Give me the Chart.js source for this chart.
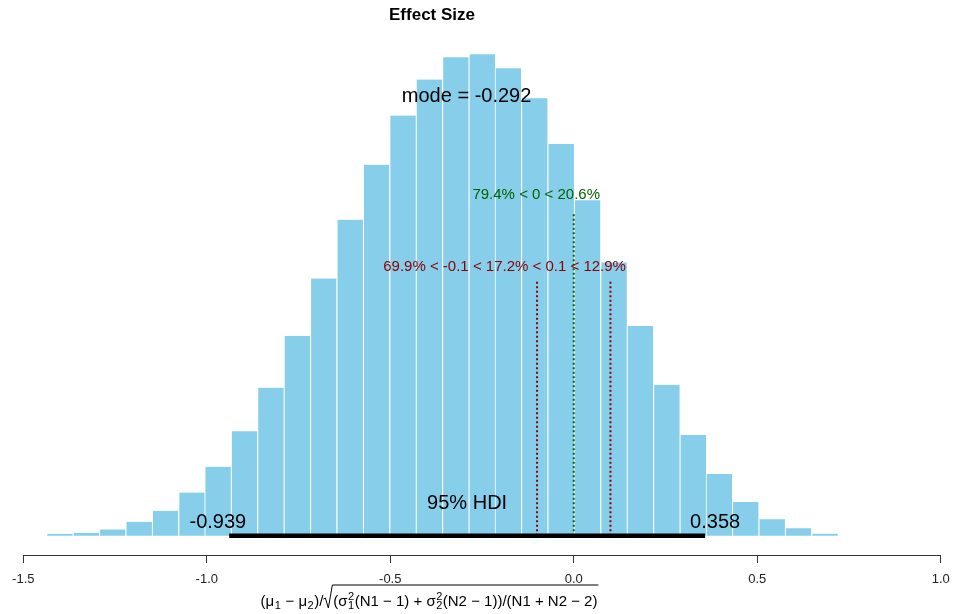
<!DOCTYPE html>
<html>
<head>
<meta charset="utf-8">
<script src="https://cdn.jsdelivr.net/npm/chart.js@4/dist/chart.umd.min.js"></script>
<style>
  html, body { margin: 0; padding: 0; background: #fff; }
  #wrap { width: 955px; height: 614px; }
</style>
</head>
<body>
<div id="wrap"><canvas id="effectChart" width="955" height="614"></canvas></div>
<script>
// Datos del histograma (densidad posterior del tamaño de efecto)
const binMids = [-1.401, -1.329, -1.257, -1.185, -1.113, -1.041, -0.970, -0.898, -0.826, -0.754,
                 -0.682, -0.610, -0.538, -0.466, -0.394, -0.322, -0.250, -0.179, -0.107, -0.035,
                  0.037,  0.109,  0.181,  0.253,  0.325,  0.396,  0.468,  0.540,  0.612,  0.684];
const density = [0.004, 0.007, 0.015, 0.033, 0.059, 0.102, 0.163, 0.247, 0.350, 0.472,
                 0.608, 0.747, 0.877, 0.993, 1.078, 1.131, 1.138, 1.105, 1.034, 0.926,
                 0.793, 0.646, 0.496, 0.357, 0.238, 0.146, 0.080, 0.039, 0.018, 0.005];
const xTicks = [-1.5, -1.0, -0.5, 0.0, 0.5, 1.0];

// Resumen posterior
const modeVal = -0.292;
const hdi = [-0.939, 0.358];
const compVal = 0;
const compPct = [79.4, 20.6];
const rope = [-0.1, 0.1];
const ropePct = [69.9, 17.2, 12.9];

const maxDens = Math.max(...density);
const cvHt = 0.7 * maxDens;    // altura del texto del valor de comparación
const ropeHt = 0.55 * maxDens; // altura del texto del ROPE

const annotations = {
    id: 'annotations',
    afterDatasetsDraw(chart) {
        const { ctx, scales: { x, y } } = chart;
        const y0 = y.getPixelForValue(0);
        ctx.save();

        function anchored(text, xv, yPix, frac, font, color) {
            ctx.font = font;
            ctx.fillStyle = color;
            ctx.textAlign = 'left';
            ctx.textBaseline = 'alphabetic';
            const w = ctx.measureText(text).width;
            ctx.fillText(text, x.getPixelForValue(xv) - frac * w, yPix);
        }

        // Título
        ctx.font = 'bold 17px "Liberation Sans", Arial, sans-serif';
        ctx.fillStyle = '#000';
        ctx.textAlign = 'center';
        ctx.textBaseline = 'alphabetic';
        ctx.fillText('Effect Size', 432, 20);

        const big = '20px "Liberation Sans", Arial, sans-serif';
        const small = '15px "Liberation Sans", Arial, sans-serif';

        anchored('mode = ' + modeVal.toFixed(3), modeVal, y.getPixelForValue(0.9 * maxDens), 0.5, big, '#000');
        anchored('95% HDI', (hdi[0] + hdi[1]) / 2, y0 - 26.5, 0.5, big, '#000');
        anchored(hdi[0].toFixed(3), hdi[0], y0 - 7.5, 0.7, big, '#000');
        anchored(hdi[1].toFixed(3), hdi[1], y0 - 7.5, 0.3, big, '#000');

        anchored(`${compPct[0]}% < ${compVal} < ${compPct[1]}%`, compVal,
                 y.getPixelForValue(cvHt), compPct[0] / 100, small, '#006400');
        anchored(`${ropePct[0]}% < ${rope[0]} < ${ropePct[1]}% < ${rope[1]} < ${ropePct[2]}%`,
                 (rope[0] + rope[1]) / 2, y.getPixelForValue(ropeHt),
                 (ropePct[0] + ropePct[1] / 2) / 100, small, '#8B0000');

        drawFormula(ctx, 429, chart.height - 8);
        ctx.restore();
    }
};

// Etiqueta del eje x (fórmula con sub/superíndices y raíz)
function drawFormula(ctx, cx, base) {
    const fs = 15;
    const norm = fs + 'px "Liberation Sans", Arial, sans-serif';
    const scr = Math.round(fs * 0.7) + 'px "Liberation Sans", Arial, sans-serif';
    const toks = [
        ['t', '('], ['t', 'μ'], ['sub', '1'], ['t', ' − '], ['t', 'μ'], ['sub', '2'], ['t', ')'],
        ['t', '/'], ['rad'],
        ['t', '('], ['t', 'σ'], ['ss', '2', '1'], ['t', '(N1 − 1)'], ['t', ' + '],
        ['t', 'σ'], ['ss', '2', '2'], ['t', '(N2 − 1))'], ['t', '/'], ['t', '(N1 + N2 − 2)']
    ];
    const radW = 10;
    function width(tk) {
        if (tk[0] === 'rad') return radW;
        if (tk[0] === 't') { ctx.font = norm; return ctx.measureText(tk[1]).width; }
        ctx.font = scr;
        if (tk[0] === 'sub') return ctx.measureText(tk[1]).width + 1;
        return Math.max(ctx.measureText(tk[1]).width, ctx.measureText(tk[2]).width) + 1;
    }
    const total = toks.reduce((s, tk) => s + width(tk), 0);
    let cur = cx - total / 2;
    let radStart = null;
    ctx.fillStyle = '#000';
    ctx.textAlign = 'left';
    ctx.textBaseline = 'alphabetic';
    toks.forEach(tk => {
        const w = width(tk);
        if (tk[0] === 't') { ctx.font = norm; ctx.fillText(tk[1], cur, base); }
        else if (tk[0] === 'sub') { ctx.font = scr; ctx.fillText(tk[1], cur + 0.5, base + 3); }
        else if (tk[0] === 'ss') {
            ctx.font = scr;
            ctx.fillText(tk[1], cur + 0.5, base - 6);
            ctx.fillText(tk[2], cur + 0.5, base + 3);
        } else if (tk[0] === 'rad') radStart = cur;
        cur += w;
    });
    const top = base - 21;
    ctx.strokeStyle = '#000';
    ctx.lineWidth = 1;
    ctx.beginPath();
    ctx.moveTo(radStart, base - 7);
    ctx.lineTo(radStart + 2, base - 8);
    ctx.lineTo(radStart + 5, base + 2);
    ctx.lineTo(radStart + 9, top);
    ctx.lineTo(cur + 1, top);
    ctx.stroke();
}

const dotted = (xv, ht, color) => ({
    type: 'line',
    data: [{ x: xv, y: 0 }, { x: xv, y: ht }],
    borderColor: color,
    borderWidth: 2,
    borderDash: [2, 2.5],
    pointRadius: 0,
    order: 0
});

new Chart(document.getElementById('effectChart'), {
    type: 'bar',
    data: {
        datasets: [
            {
                type: 'line',
                data: [{ x: hdi[0], y: 0 }, { x: hdi[1], y: 0 }],
                borderColor: '#000',
                borderWidth: 4.5,
                borderCapStyle: 'butt',
                pointRadius: 0,
                order: 0
            },
            dotted(compVal, 0.96 * cvHt, '#006400'),
            dotted(rope[0], 0.96 * ropeHt, '#8B0000'),
            dotted(rope[1], 0.96 * ropeHt, '#8B0000'),
            {
                type: 'bar',
                data: binMids.map((m, i) => ({ x: m, y: density[i] })),
                backgroundColor: '#87CEEB',
                borderColor: '#ffffff',
                borderWidth: { left: 1, top: 0, right: 0, bottom: 0 },
                borderSkipped: false,
                barPercentage: 1.0,
                categoryPercentage: 1.0,
                order: 10
            }
        ]
    },
    options: {
        responsive: false,
        animation: false,
        layout: { padding: { left: 23.3, right: 14.3, top: 36, bottom: 0 } },
        plugins: {
            legend: { display: false },
            tooltip: { enabled: false },
            title: { display: false }
        },
        scales: {
            x: {
                type: 'linear',
                min: -1.5,
                max: 1.0,
                offset: false,
                afterBuildTicks: scale => { scale.ticks = xTicks.map(v => ({ value: v })); },
                afterFit: scale => {
                    scale.height = 59;
                    // el área del gráfico la fija el padding del layout
                    scale.paddingLeft = 0;
                    scale.paddingRight = 0;
                },
                ticks: {
                    callback: v => v.toFixed(1),
                    font: { family: '"Liberation Sans", Arial, sans-serif', size: 13 },
                    color: '#222',
                    padding: 9,
                    maxRotation: 0
                },
                grid: { display: true, drawOnChartArea: false, drawTicks: true, tickLength: 8, color: '#333', offset: false },
                border: { display: true, color: '#333', width: 1 }
            },
            y: {
                display: false,
                min: -0.0454,
                max: 1.181
            }
        }
    },
    plugins: [annotations]
});
</script>
</body>
</html>
